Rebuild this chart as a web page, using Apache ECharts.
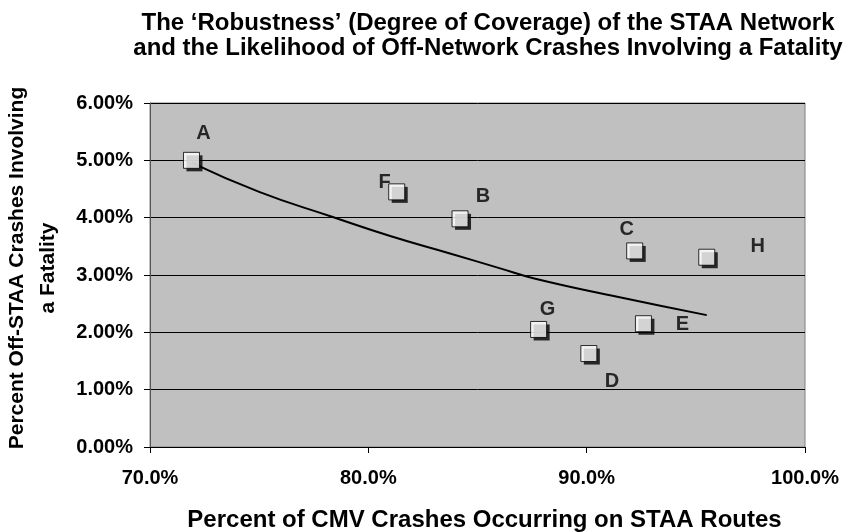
<!DOCTYPE html>
<html>
<head>
<meta charset="utf-8">
<script src="https://cdn.jsdelivr.net/npm/echarts@6/dist/echarts.min.js"></script>
<style>
  html, body { margin: 0; padding: 0; background: #fff; }
  #chart { width: 843px; height: 532px; }
</style>
</head>
<body>
<div id="chart"></div>
<script>
// state labels and their values (percent)
const pointNames = ['A', 'F', 'B', 'C', 'H', 'G', 'E', 'D']
const staaShare = [71.9, 81.3, 84.2, 92.2, 95.5, 87.8, 92.6, 90.1]
const fatalShare = [5.00, 4.45, 3.98, 3.42, 3.31, 2.05, 2.15, 1.63]

// trendline
const trendX = [71.9, 75.0, 78.3, 81.0, 83.7, 86.0, 87.6, 91.4, 95.5]
const trendY = [4.96, 4.45, 4.02, 3.68, 3.38, 3.12, 2.94, 2.62, 2.30]

// where each letter sits relative to its square
const labelOffsets = [[12, -27], [-12, -9], [23, -22], [-8, -21], [51, -11], [9, -20], [39, 1], [23, 28]]

const chart = echarts.init(document.getElementById('chart'), null, { renderer: 'canvas' })

const FONT = 'Liberation Sans'
const pairs = staaShare.map((x, i) => [x, fatalShare[i]])

const option = {
  animation: false,
  title: {
    text: 'The \u2018Robustness\u2019 (Degree of Coverage) of the STAA Network\nand the Likelihood of Off-Network Crashes Involving a Fatality',
    left: 488,
    top: 11,
    textAlign: 'center',
    padding: 0,
    textStyle: {
      fontFamily: FONT,
      fontSize: 24,
      fontWeight: 'bold',
      color: '#000',
      lineHeight: 25
    }
  },
  grid: {
    left: 150,
    right: 38,
    top: 103,
    bottom: 85,
    outerBoundsMode: 'none',
    show: true,
    backgroundColor: '#c0c0c0',
    borderColor: '#808080',
    borderWidth: 1
  },
  xAxis: {
    type: 'value',
    min: 70,
    max: 100,
    interval: 10,
    name: 'Percent of CMV Crashes Occurring on STAA Routes',
    nameLocation: 'middle',
    nameGap: 61,
    nameTextStyle: {
      fontFamily: FONT,
      fontSize: 24,
      fontWeight: 'bold',
      color: '#000',
      padding: [0, 0, 0, 14]
    },
    axisLine: { lineStyle: { color: '#000' } },
    axisTick: { show: true, length: 6, lineStyle: { color: '#000' } },
    axisLabel: {
      formatter: v => v.toFixed(1) + '%',
      fontFamily: FONT,
      fontSize: 20,
      fontWeight: 'bold',
      color: '#000',
      margin: 21
    },
    splitLine: { show: false }
  },
  yAxis: {
    type: 'value',
    min: 0,
    max: 6,
    interval: 1,
    axisLine: { show: true, lineStyle: { color: '#555' } },
    axisTick: { show: true, length: 6, lineStyle: { color: '#000' } },
    axisLabel: {
      formatter: v => v.toFixed(2) + '%',
      fontFamily: FONT,
      fontSize: 20,
      fontWeight: 'bold',
      color: '#000',
      margin: 17
    },
    splitLine: { show: true, lineStyle: { color: '#000', width: 1 } }
  },
  graphic: [{
    type: 'text',
    rotation: Math.PI / 2,
    x: 33,
    y: 268,
    style: {
      text: 'Percent Off-STAA Crashes Involving\na Fatality',
      font: 'bold 21px "Liberation Sans"',
      fill: '#000',
      align: 'center',
      verticalAlign: 'middle',
      lineHeight: 31
    }
  }],
  series: [
    {
      type: 'line',
      data: trendX.map((x, i) => [x, trendY[i]]),
      smooth: true,
      showSymbol: false,
      lineStyle: { color: '#000', width: 2 },
      z: 3
    },
    {
      // drop shadow of the squares
      type: 'scatter',
      data: pairs,
      symbol: 'rect',
      symbolSize: 16,
      symbolOffset: [3, 3],
      itemStyle: { color: '#000' },
      silent: true,
      z: 4
    },
    {
      type: 'scatter',
      data: pairs.map((p, i) => ({ value: p, label: { offset: labelOffsets[i] } })),
      symbol: 'rect',
      symbolSize: 16,
      itemStyle: {
        color: '#fff',
        borderColor: '#000',
        borderWidth: 1
      },
      label: {
        show: true,
        position: 'inside',
        formatter: p => pointNames[p.dataIndex],
        fontFamily: FONT,
        fontSize: 20,
        fontWeight: 'bold',
        color: '#000'
      },
      z: 5
    }
  ]
}

chart.setOption(option)
</script>
</body>
</html>
